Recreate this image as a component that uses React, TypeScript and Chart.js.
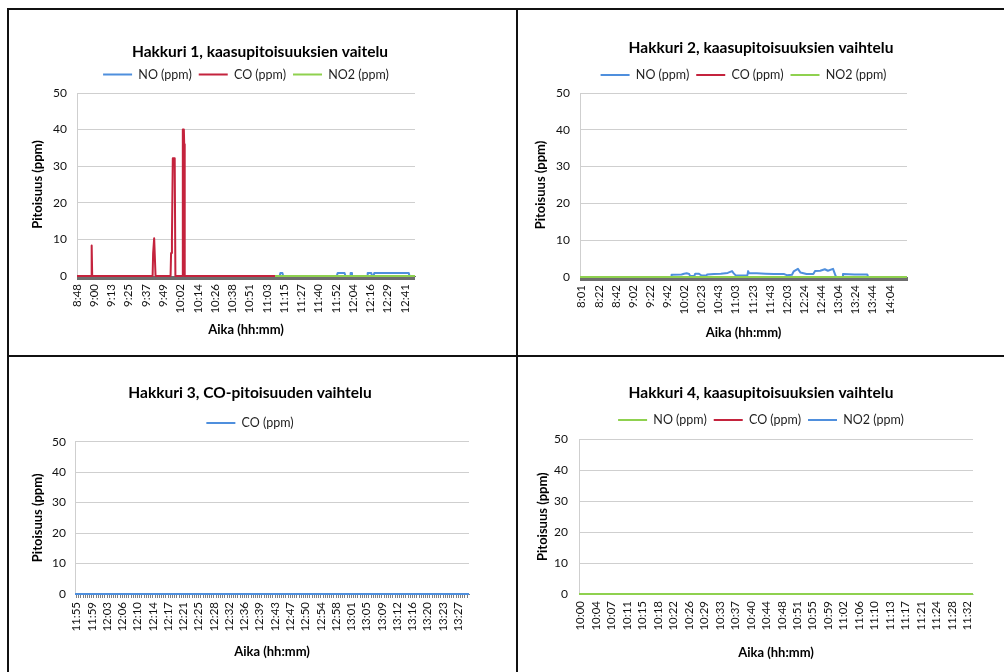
import { useEffect, useRef } from 'react';
import { Chart, registerables } from 'chart.js';

Chart.register(...registerables);

const FONT = 'Lato, "Open Sans", "DejaVu Sans", sans-serif';
const BLUE = '#4F8FDD';
const RED = '#C4233D';
const GREEN = '#8FD14F';
const GRID = '#CFCFCF';
const TEXT = '#111111';

type Pt = [number, number];

// ---------- Hakkuri 1 ----------
const h1Ticks = ['8:48', '9:00', '9:13', '9:25', '9:37', '9:49', '10:02', '10:14', '10:26', '10:38', '10:51', '11:03', '11:15', '11:27', '11:40', '11:52', '12:04', '12:16', '12:29', '12:41'];
const h1NO: Pt[] = [[11.47, 0], [11.74, 0], [11.78, 0.8], [11.9, 0.8], [11.94, 0], [15.05, 0], [15.1, 0.8], [15.5, 0.8], [15.55, 0], [15.82, 0], [15.85, 0.8], [15.9, 0.8], [15.93, 0], [16.8, 0], [16.84, 0.8], [17.05, 0.8], [17.09, 0], [17.18, 0], [17.22, 0.8], [19.22, 0.8], [19.26, 0], [19.58, 0]];
const h1CO: Pt[] = [[0, 0], [0.82, 0], [0.85, 8.3], [0.88, 0], [4.38, 0], [4.41, 6.2], [4.47, 10.3], [4.55, 0], [5.42, 0], [5.45, 6.3], [5.5, 10.2], [5.55, 32.2], [5.66, 32.2], [5.7, 0], [6.1, 0], [6.13, 40], [6.19, 40], [6.21, 36], [6.24, 0], [11.47, 0]];
const h1NO2: Pt[] = [[11.47, 0], [19.58, 0]];

// ---------- Hakkuri 2 ----------
const h2Ticks = ['8:01', '8:22', '8:42', '9:02', '9:22', '9:42', '10:02', '10:23', '10:43', '11:03', '11:23', '11:43', '12:03', '12:24', '12:44', '13:04', '13:24', '13:44', '14:04'];
const h2NO: Pt[] = [[-0.1, 0], [5.23, 0], [5.25, 0.6], [5.83, 0.7], [5.98, 0.9], [6.13, 1.0], [6.28, 0.8], [6.33, 0.3], [6.58, 0.3], [6.63, 0.9], [6.83, 0.9], [7.0, 0.4], [7.28, 0.4], [7.33, 0.7], [7.73, 0.8], [8.13, 0.9], [8.53, 1.1], [8.78, 1.6], [8.88, 1.0], [8.98, 0.5], [9.43, 0.4], [9.68, 0.5], [9.72, 1.6], [9.78, 1.0], [10.23, 1.0], [10.73, 0.9], [11.23, 0.8], [11.83, 0.8], [11.98, 0.5], [12.28, 0.6], [12.38, 1.5], [12.63, 2.2], [12.78, 1.2], [13.13, 0.8], [13.53, 0.8], [13.63, 1.6], [13.93, 1.7], [14.2, 2.1], [14.38, 1.7], [14.68, 2.2], [14.83, 0.3], [14.88, 0], [15.23, 0], [15.26, 0.8], [15.93, 0.7], [16.68, 0.7], [16.73, 0], [19.0, 0]];
const h2CO: Pt[] = [[-0.1, 0], [19.0, 0]];
const h2NO2: Pt[] = [[-0.1, 0], [19.0, 0]];

// ---------- Hakkuri 3 ----------
const h3Ticks = ['11:55', '11:59', '12:03', '12:06', '12:10', '12:14', '12:17', '12:21', '12:25', '12:28', '12:32', '12:36', '12:39', '12:43', '12:47', '12:50', '12:54', '12:58', '13:01', '13:05', '13:09', '13:12', '13:16', '13:20', '13:23', '13:27'];
const h3CO: Pt[] = [[-0.1, 0], [25.7, 0]];

// ---------- Hakkuri 4 ----------
const h4Ticks = ['10:00', '10:04', '10:07', '10:11', '10:15', '10:18', '10:22', '10:26', '10:29', '10:33', '10:37', '10:40', '10:44', '10:48', '10:51', '10:55', '10:59', '11:02', '11:06', '11:10', '11:13', '11:17', '11:21', '11:24', '11:28', '11:32'];
const h4NO: Pt[] = [[-0.1, 0], [25.35, 0]];
const h4CO: Pt[] = [[-0.1, 0], [25.35, 0]];
const h4NO2: Pt[] = [[-0.1, 0], [25.35, 0]];

const yTickValues = [0, 10, 20, 30, 40, 50];

interface Series { label: string; data: Pt[]; color: string; order: number }
interface Panel {
  left: number; top: number; w: number; h: number;
  title: string; titlePad: { top: number; bottom: number };
  legendFull: boolean; padRight: number;
  yw: number; rw: number; ht: number; xh: number;
  yTitlePad: number; xTitlePad: number; yTickPad: number; xTickPad: number;
  xMin: number; xMax: number; m: number; tickMarks: boolean; tickColor: string;
  labels: string[]; series: Series[];
}

const panels: Panel[] = [
  {
    left: 9, top: 10, w: 507, h: 345,
    title: 'Hakkuri 1, kaasupitoisuuksien vaitelu', titlePad: { top: 32.7, bottom: 0 },
    legendFull: false, padRight: 5, yw: 68, rw: 96, ht: 2.2, xh: 79,
    yTitlePad: 21, xTitlePad: 17.2, yTickPad: 10, xTickPad: 4,
    xMin: 0, xMax: 19.58, m: 24, tickMarks: true, tickColor: '#6e6e6e',
    labels: h1Ticks,
    series: [
      { label: 'NO (ppm)', data: h1NO, color: BLUE, order: 3 },
      { label: 'CO (ppm)', data: h1CO, color: RED, order: 2 },
      { label: 'NO2 (ppm)', data: h1NO2, color: GREEN, order: 1 },
    ],
  },
  {
    left: 518, top: 10, w: 486, h: 345,
    title: 'Hakkuri 2, kaasupitoisuuksien vaihtelu', titlePad: { top: 28.7, bottom: 4.5 },
    legendFull: false, padRight: 0, yw: 62, rw: 97, ht: 1.7, xh: 78,
    yTitlePad: 15.4, xTitlePad: 14.2, yTickPad: 10, xTickPad: 4,
    xMin: -0.1, xMax: 19.0, m: 20, tickMarks: true, tickColor: '#6e6e6e',
    labels: h2Ticks,
    series: [
      { label: 'NO (ppm)', data: h2NO, color: BLUE, order: 3 },
      { label: 'CO (ppm)', data: h2CO, color: RED, order: 2 },
      { label: 'NO2 (ppm)', data: h2NO2, color: GREEN, order: 1 },
    ],
  },
  {
    left: 9, top: 357, w: 507, h: 315,
    title: 'Hakkuri 3, CO-pitoisuuden vaihtelu', titlePad: { top: 26.7, bottom: 7.5 },
    legendFull: true, padRight: 25, yw: 66, rw: 22, ht: 2.4, xh: 78,
    yTitlePad: 20.7, xTitlePad: 12.2, yTickPad: 9, xTickPad: 4,
    xMin: -0.1, xMax: 25.7, m: 7, tickMarks: true, tickColor: '#7f7f7f',
    labels: h3Ticks,
    series: [{ label: 'CO (ppm)', data: h3CO, color: BLUE, order: 1 }],
  },
  {
    left: 518, top: 357, w: 486, h: 315,
    title: 'Hakkuri 4, kaasupitoisuuksien vaihtelu', titlePad: { top: 26.7, bottom: 4.5 },
    legendFull: true, padRight: 0, yw: 61, rw: 31, ht: 3.0, xh: 78,
    yTitlePad: 16.7, xTitlePad: 11.2, yTickPad: 11, xTickPad: 7,
    xMin: -0.1, xMax: 25.35, m: 1, tickMarks: false, tickColor: GRID,
    labels: h4Ticks,
    series: [
      { label: 'NO (ppm)', data: h4NO, color: GREEN, order: 1 },
      { label: 'CO (ppm)', data: h4CO, color: RED, order: 2 },
      { label: 'NO2 (ppm)', data: h4NO2, color: BLUE, order: 3 },
    ],
  },
];

function buildConfig(p: Panel): any {
  return {
    type: 'line',
    data: {
      datasets: p.series.map((s) => ({
        label: s.label,
        data: s.data.map(([x, y]) => ({ x, y })),
        borderColor: s.color,
        backgroundColor: s.color,
        borderWidth: 2,
        borderJoinStyle: 'round',
        pointRadius: 0,
        pointHoverRadius: 0,
        tension: 0,
        fill: false,
        clip: false,
        order: s.order,
        xAxisID: 'x',
        yAxisID: 'y',
      })),
    },
    options: {
      responsive: false,
      animation: false,
      devicePixelRatio: 1,
      events: [],
      layout: { padding: { left: 0, right: p.padRight, top: 0, bottom: 0 } },
      plugins: {
        tooltip: { enabled: false },
        title: {
          display: true,
          text: p.title,
          color: '#000',
          font: { family: FONT, size: 15.5, weight: 'bold' },
          padding: p.titlePad,
        },
        legend: {
          display: true,
          position: 'top',
          fullSize: p.legendFull,
          labels: {
            usePointStyle: true,
            pointStyle: 'line',
            pointStyleWidth: 29,
            padding: 7,
            color: '#1f1f1f',
            font: { family: FONT, size: 12.5 },
            sort: (a: any, b: any) => a.datasetIndex - b.datasetIndex,
          },
        },
      },
      scales: {
        x: {
          type: 'linear',
          position: 'bottom',
          min: p.xMin,
          max: p.xMax,
          bounds: 'data',
          afterBuildTicks: (s: any) => {
            const arr: any[] = [];
            const k0 = Math.ceil(p.xMin * p.m - 1e-9);
            const k1 = Math.floor(p.xMax * p.m + 1e-9);
            for (let k = k0; k <= k1; k++) arr.push({ value: k / p.m });
            s.ticks = arr;
          },
          afterFit: (s: any) => { s.height = p.xh; },
          grid: {
            display: p.tickMarks,
            drawOnChartArea: false,
            drawTicks: p.tickMarks,
            tickLength: 4,
            color: p.tickColor,
            lineWidth: 1,
          },
          border: { display: true, color: p.tickMarks ? p.tickColor : GRID, width: 1 },
          ticks: {
            autoSkip: false,
            minRotation: 90,
            maxRotation: 90,
            padding: p.xTickPad,
            color: TEXT,
            font: { family: FONT, size: 11.5 },
            callback: (value: number) => {
              const i = Math.round(value);
              return Math.abs(value - i) < 1e-6 && i >= 0 && i < p.labels.length ? p.labels[i] : '';
            },
          },
          title: {
            display: true,
            text: 'Aika (hh:mm)',
            color: '#000',
            font: { family: FONT, size: 13, weight: 'bold' },
            padding: { top: 0, bottom: p.xTitlePad },
          },
        },
        y: {
          type: 'linear',
          position: 'left',
          min: 0,
          max: 50,
          afterBuildTicks: (s: any) => { s.ticks = yTickValues.map((v) => ({ value: v })); },
          afterFit: (s: any) => { s.width = p.yw; },
          grid: { color: GRID, drawTicks: false, lineWidth: 1 },
          border: { display: true, color: GRID },
          ticks: {
            padding: p.yTickPad,
            color: TEXT,
            font: { family: FONT, size: 12 },
          },
          title: {
            display: true,
            text: 'Pitoisuus (ppm)',
            color: '#000',
            font: { family: FONT, size: 13, weight: 'bold' },
            padding: { top: p.yTitlePad, bottom: 0 },
          },
        },
        xTop: {
          type: 'linear',
          position: 'top',
          display: true,
          grid: { display: false, drawTicks: false },
          ticks: { display: false },
          border: { display: false },
          afterFit: (s: any) => { s.height = p.ht; },
        },
        yRight: {
          type: 'linear',
          position: 'right',
          display: true,
          grid: { display: false, drawTicks: false },
          ticks: { display: false },
          border: { display: false },
          afterFit: (s: any) => { s.width = p.rw; },
        },
      },
    },
  };
}

function PanelChart({ p }: { p: Panel }) {
  const ref = useRef<HTMLCanvasElement | null>(null);
  useEffect(() => {
    if (!ref.current) return;
    const chart = new Chart(ref.current, buildConfig(p));
    return () => chart.destroy();
  }, [p]);
  return (
    <canvas
      ref={ref}
      width={p.w}
      height={p.h}
      style={{ position: 'absolute', left: p.left, top: p.top, width: p.w, height: p.h }}
    />
  );
}

const line = (l: number, t: number, w: number, h: number) => (
  <div style={{ position: 'absolute', left: l, top: t, width: w, height: h, background: '#111' }} />
);

export default function App() {
  return (
    <div style={{ position: 'absolute', left: 0, top: 0, width: 1004, height: 672, background: '#fff', overflow: 'hidden' }}>
      {panels.map((p, i) => (
        <PanelChart key={i} p={p} />
      ))}
      {line(7, 8, 997, 2)}
      {line(7, 8, 2, 664)}
      {line(516, 8, 2, 664)}
      {line(7, 355, 997, 2)}
    </div>
  );
}
